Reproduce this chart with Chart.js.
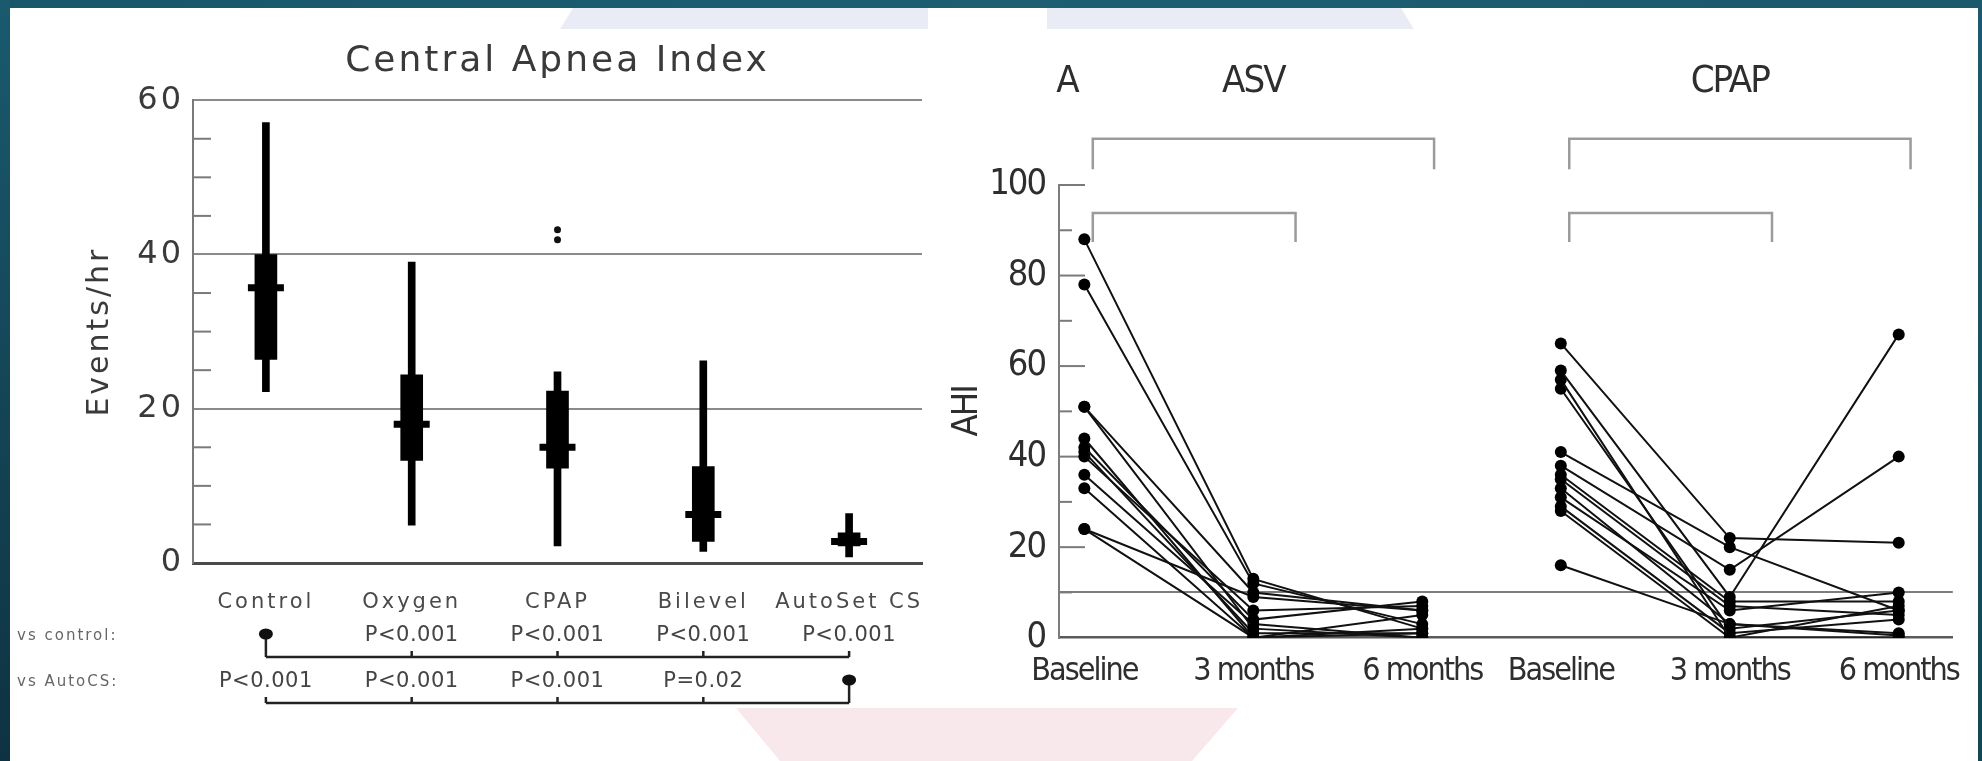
<!DOCTYPE html>
<html>
<head>
<meta charset="utf-8">
<title>Central apnea index and AHI</title>
<script src="https://cdn.jsdelivr.net/npm/chart.js@4.4.1/dist/chart.umd.min.js"></script>
<style>
  html, body { margin: 0; padding: 0; }
  body { width: 1982px; height: 761px; position: relative; overflow: hidden; background: #fff; }
  .frame { position: absolute; }
  .frame-top { left: 0; top: 0; width: 1982px; height: 8px; background: linear-gradient(90deg, #17566a, #1d5e73 50%, #1b596d); }
  .frame-left { left: 0; top: 0; width: 10px; height: 761px; background: linear-gradient(180deg, #1a5a6e, #0e3241); }
  .frame-right { right: 0; top: 0; width: 4px; height: 761px; background: linear-gradient(180deg, #1b5a6e, #134556); }
  .wm-top-a { left: 560px; top: 8px; width: 368px; height: 21px; background: #e9ecf4; clip-path: polygon(13px 0, 100% 0, 100% 100%, 0 100%); }
  .wm-top-b { left: 1047px; top: 8px; width: 367px; height: 21px; background: #e9ecf4; clip-path: polygon(0 0, 354px 0, 100% 100%, 0 100%); }
  .wm-bottom { left: 736px; top: 708px; width: 502px; height: 53px; background: #f8e7eb; clip-path: polygon(0 0, 100% 0, 456px 100%, 44px 100%); }
  canvas { position: absolute; }
  #apnea { left: 10px; top: 8px; }
  #ahi { left: 940px; top: 8px; }
</style>
</head>
<body>
<div class="frame wm-top-a"></div>
<div class="frame wm-top-b"></div>
<div class="frame wm-bottom"></div>
<canvas id="apnea" width="975" height="753"></canvas>
<canvas id="ahi" width="1035" height="753"></canvas>
<div class="frame frame-top"></div>
<div class="frame frame-left"></div>
<div class="frame frame-right"></div>
<script>
// Central apnea index by treatment (box plots)
const groups = ['Control', 'Oxygen', 'CPAP', 'Bilevel', 'AutoSet CS'];
const whiskerLow = [22.2, 4.9, 2.2, 1.5, 0.8];
const whiskerHigh = [57.1, 39.0, 24.8, 26.2, 6.4];
const boxLow = [26.4, 13.3, 12.3, 2.8, 2.2];
const boxHigh = [40.0, 24.4, 22.3, 12.5, 3.9];
const medians = [35.7, 18.0, 15.0, 6.3, 2.8];
const outlierGroups = ['CPAP', 'CPAP'];
const outlierValues = [43.2, 41.9];
const eventTicks = [0, 20, 40, 60];
const vsControl = [null, 'P<0.001', 'P<0.001', 'P<0.001', 'P<0.001'];
const vsAutoCS = ['P<0.001', 'P<0.001', 'P<0.001', 'P=0.02', null];

// AHI per patient at baseline, 3 and 6 months
const timepoints = ['Baseline', '3 months', '6 months'];
const asvX = [0, 1, 2];
const cpapX = [2.82, 3.82, 4.82];
const asvAHI = [
  [88, 13, 2], [78, 12, 3], [51, 10, 6], [51, 2, 0], [44, 0, 5], [42, 4, 8],
  [41, 1, 1], [40, 6, 7], [36, 3, 0], [33, 0, 2], [24, 9, 6], [24, 0, 1]
];
const cpapAHI = [
  [65, 22, 21], [59, 9, 67], [57, 0, 0], [55, 2, 6], [41, 20, 6], [38, 15, 40],
  [36, 8, 8], [35, 7, 5], [33, 3, 0.5], [31, 6, 10], [29, 1, 4], [28, 0, 7], [16, 3, 1]
];
const ahiTicks = [0, 20, 40, 60, 80, 100];
const ahiThreshold = 10;
const armNames = ['ASV', 'CPAP'];
const panelLetter = 'A';
// brackets over each arm: [from, to, bar level, leg end], x relative to the arm's baseline
const armBrackets = [[0.05, 2.07, 110.2, 103.5], [0.05, 1.25, 93.8, 87.4]];

const wideFont = '"DejaVu Sans", "Liberation Sans", sans-serif';
const narrowFont = '"Liberation Sans Narrow", "DejaVu Sans Condensed", sans-serif';

function spacing(px) {
  return { id: 'spacing', beforeDraw(chart) { chart.ctx.letterSpacing = px; } };
}

// short tick marks drawn inward from the y axis
function innerTicks(majorLen, minorLen, labelled) {
  return {
    id: 'innerTicks',
    beforeDatasetsDraw(chart) {
      const { ctx, chartArea, scales: { y } } = chart;
      ctx.save();
      ctx.strokeStyle = '#7a7a7a';
      ctx.lineWidth = 2;
      y.ticks.forEach(t => {
        if (t.value === 0) return;
        const len = labelled.includes(t.value) ? majorLen : minorLen;
        if (!len) return;
        const py = y.getPixelForValue(t.value);
        ctx.beginPath();
        ctx.moveTo(chartArea.left, py);
        ctx.lineTo(chartArea.left + len, py);
        ctx.stroke();
      });
      ctx.restore();
    }
  };
}

// p-value rows under the category axis
const comparisons = {
  id: 'comparisons',
  afterDraw(chart) {
    const { ctx, chartArea, scales: { x } } = chart;
    const rows = [['vs control:', vsControl], ['vs AutoCS:', vsAutoCS]];
    const xs = groups.map((g, i) => x.getPixelForValue(i));
    ctx.save();
    rows.forEach(([label, values], r) => {
      const textY = chartArea.bottom + 73 + r * 46;
      const lineY = textY + 21;
      ctx.textBaseline = 'middle';
      ctx.textAlign = 'left';
      ctx.fillStyle = '#666';
      ctx.font = '15px ' + wideFont;
      ctx.letterSpacing = '2px';
      ctx.fillText(label, 7, textY);

      ctx.strokeStyle = '#222';
      ctx.lineWidth = 2.5;
      ctx.beginPath();
      ctx.moveTo(xs[0], lineY);
      ctx.lineTo(xs[xs.length - 1], lineY);
      ctx.stroke();

      ctx.textAlign = 'center';
      ctx.font = '21px ' + wideFont;
      ctx.letterSpacing = '0.5px';
      ctx.fillStyle = '#444';
      values.forEach((v, i) => {
        ctx.beginPath();
        if (v === null) {
          ctx.moveTo(xs[i], textY - 2);
          ctx.lineTo(xs[i], lineY);
          ctx.stroke();
          ctx.beginPath();
          ctx.ellipse(xs[i], textY - 2, 7, 5.5, 0, 0, Math.PI * 2);
          ctx.fillStyle = '#111';
          ctx.fill();
          ctx.fillStyle = '#444';
        } else {
          ctx.moveTo(xs[i], lineY - 6);
          ctx.lineTo(xs[i], lineY);
          ctx.stroke();
          ctx.fillText(v, xs[i], textY);
        }
      });
    });
    ctx.restore();
  }
};

new Chart(document.getElementById('apnea'), {
  type: 'bar',
  data: {
    labels: groups,
    datasets: [
      {
        data: groups.map((g, i) => [whiskerLow[i], whiskerHigh[i]]),
        backgroundColor: '#000', barThickness: 7, grouped: false
      },
      {
        data: groups.map((g, i) => [boxLow[i], boxHigh[i]]),
        backgroundColor: '#000', barThickness: 22, grouped: false
      },
      {
        type: 'line', data: medians, showLine: false,
        pointStyle: 'line', pointRadius: 18, pointBorderWidth: 7,
        pointBorderColor: '#000', pointBackgroundColor: '#000'
      },
      {
        type: 'line', showLine: false,
        data: outlierGroups.map((g, i) => ({ x: g, y: outlierValues[i] })),
        pointRadius: 3.5, pointBorderWidth: 0, pointBackgroundColor: '#111'
      }
    ]
  },
  options: {
    responsive: false,
    animation: false,
    events: [],
    layout: { padding: { top: 0, right: 63, bottom: 0, left: 0 } },
    plugins: {
      legend: { display: false },
      tooltip: { enabled: false },
      title: {
        display: true,
        text: 'Central Apnea Index',
        fullSize: false,
        color: '#3a3a3a',
        font: { family: wideFont, size: 36, weight: 400 },
        padding: { top: 32, bottom: 17 }
      }
    },
    scales: {
      x: {
        grid: { display: false },
        border: { color: '#4a4a4a', width: 3 },
        ticks: {
          color: '#4a4a4a', padding: 19, maxRotation: 0, autoSkip: false,
          font: { family: wideFont, size: 21, weight: 400 }
        },
        afterFit(s) { s.height = 198; }
      },
      y: {
        min: 0, max: 60,
        ticks: {
          stepSize: 5, autoSkip: false, padding: 9, color: '#3a3a3a',
          font: { family: wideFont, size: 32, weight: 400 },
          callback: v => eventTicks.includes(v) ? String(v) : ''
        },
        grid: {
          drawTicks: false, lineWidth: 2,
          color: c => (c.tick && c.tick.value > 0 && eventTicks.includes(c.tick.value)) ? '#8a8a8a' : 'transparent'
        },
        border: { color: '#7a7a7a', width: 2 },
        title: {
          display: true, text: 'Events/hr', color: '#3a3a3a',
          font: { family: wideFont, size: 30, weight: 400 },
          padding: { top: 72, bottom: 0 }
        },
        afterFit(s) { s.width = 183; }
      }
    }
  },
  plugins: [spacing('3px'), innerTicks(0, 18, eventTicks), comparisons]
});

// panel letter and arm names above the AHI plot
const armTitles = {
  id: 'armTitles',
  afterDraw(chart) {
    const { ctx, chartArea, scales: { x } } = chart;
    const baseY = chartArea.top - 93;
    ctx.save();
    ctx.fillStyle = '#2e2e2e';
    ctx.font = '38px ' + narrowFont;
    ctx.letterSpacing = '-2px';
    ctx.textBaseline = 'alphabetic';
    ctx.textAlign = 'center';
    ctx.fillText(panelLetter, chartArea.left + 8, baseY);
    [asvX, cpapX].forEach((armX, i) => {
      ctx.fillText(armNames[i], x.getPixelForValue(armX[1]), baseY);
    });
    ctx.restore();
  }
};

const ahiDatasets = [];
[[asvX, asvAHI], [cpapX, cpapAHI]].forEach(([armX, patients]) => {
  patients.forEach(p => {
    ahiDatasets.push({
      data: armX.map((xv, j) => ({ x: xv, y: p[j] })),
      showLine: true,
      borderColor: '#111', borderWidth: 2,
      pointRadius: 6, pointBorderWidth: 0, pointBackgroundColor: '#000'
    });
  });
  armBrackets.forEach(([from, to, level, leg]) => {
    const x0 = armX[0] + from, x1 = armX[0] + to;
    ahiDatasets.push({
      data: [{ x: x0, y: leg }, { x: x0, y: level }, { x: x1, y: level }, { x: x1, y: leg }],
      showLine: true, clip: false,
      borderColor: '#9b9b9b', borderWidth: 2.5, pointRadius: 0
    });
  });
});

new Chart(document.getElementById('ahi'), {
  type: 'scatter',
  data: { datasets: ahiDatasets },
  options: {
    responsive: false,
    animation: false,
    events: [],
    layout: { padding: { top: 177, right: 22, bottom: 0, left: 0 } },
    plugins: { legend: { display: false }, tooltip: { enabled: false } },
    scales: {
      x: {
        type: 'linear', min: -0.15, max: 5.14,
        grid: { display: false },
        border: { color: '#5a5a5a', width: 2.5 },
        afterBuildTicks(s) { s.ticks = [...asvX, ...cpapX].map(value => ({ value })); },
        ticks: {
          color: '#2e2e2e', padding: 7, maxRotation: 0, autoSkip: false,
          font: { family: narrowFont, size: 32 },
          callback: (v, i) => timepoints[i % timepoints.length]
        },
        afterFit(s) { s.height = 123.3; }
      },
      y: {
        min: 0, max: 100,
        ticks: {
          stepSize: 10, autoSkip: false, padding: 14, color: '#2e2e2e',
          font: { family: narrowFont, size: 36 },
          callback: v => ahiTicks.includes(v) ? String(v) : ''
        },
        grid: {
          drawTicks: false, lineWidth: 2,
          color: c => (c.tick && c.tick.value === ahiThreshold) ? '#7d7d7d' : 'transparent'
        },
        border: { color: '#7d7d7d', width: 2 },
        title: {
          display: true, text: 'AHI', color: '#2e2e2e',
          font: { family: narrowFont, size: 36 },
          padding: { top: 6, bottom: 0 }
        },
        afterFit(s) { s.width = 119; }
      }
    }
  },
  plugins: [spacing('-2px'), innerTicks(26, 13, ahiTicks), armTitles]
});
</script>
</body>
</html>
